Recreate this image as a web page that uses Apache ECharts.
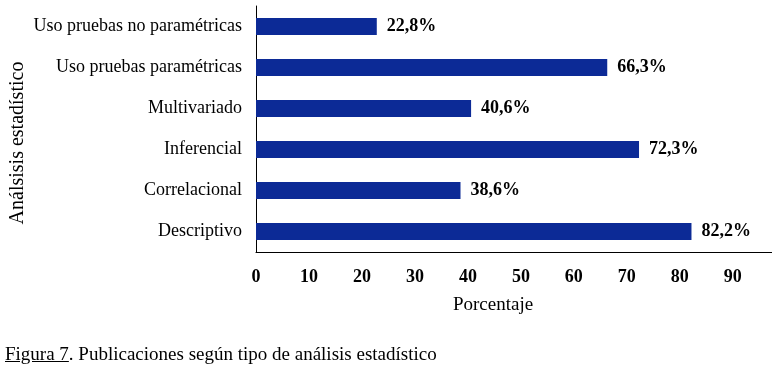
<!DOCTYPE html>
<html>
<head>
<meta charset="utf-8">
<script src="https://cdn.jsdelivr.net/npm/echarts@6/dist/echarts.min.js"></script>
<style>
  body { margin: 0; background: #fff; }
  #chart { width: 772px; height: 371px; }
  .caption {
    position: absolute; left: 5px; top: 343px;
    font-family: "Liberation Serif", "DejaVu Serif", serif;
    font-size: 19px; color: #000;
  }
</style>
</head>
<body>
<div id="chart"></div>
<div class="caption"><u>Figura 7</u>. Publicaciones según tipo de análisis estadístico</div>
<script>
const categories = ['Descriptivo', 'Correlacional', 'Inferencial', 'Multivariado', 'Uso pruebas paramétricas', 'Uso pruebas no paramétricas'];
const values = [82.2, 38.6, 72.3, 40.6, 66.3, 22.8];
const serif = '"Liberation Serif", "DejaVu Serif", serif';

let myChart = echarts.init(document.getElementById('chart'));
const option = {
    animation: false,
    grid: { left: 256, right: 0, top: 6, bottom: 119, outerBoundsMode: 'none', containLabel: false },
    xAxis: {
        type: 'value',
        min: 0,
        max: 97.4,
        interval: 10,
        name: 'Porcentaje',
        nameLocation: 'middle',
        nameGap: 44,
        nameTextStyle: { fontFamily: serif, fontSize: 19, color: '#000', padding: [0, 42, 0, 0] },
        axisLine: { show: true, lineStyle: { color: '#000', width: 1 } },
        axisTick: { show: false },
        splitLine: { show: false },
        axisLabel: {
            fontFamily: serif, fontSize: 18, fontWeight: 'bold', color: '#000', margin: 16,
            showMaxLabel: false,
            formatter: v => (v > 90 ? '' : v)
        }
    },
    yAxis: {
        type: 'category',
        data: categories,
        name: 'Análsisis estadístico',
        nameLocation: 'middle',
        nameGap: 228,
        nameRotate: 90,
        nameMoveOverlap: false,
        nameTextStyle: { fontFamily: serif, fontSize: 20, color: '#000', padding: [0, 28, 0, 0] },
        axisLine: { show: true, lineStyle: { color: '#000', width: 1 } },
        axisTick: { show: false },
        axisLabel: { fontFamily: serif, fontSize: 18, color: '#000', margin: 14 }
    },
    series: [{
        type: 'bar',
        data: values,
        barWidth: 17,
        itemStyle: { color: '#0c2a96' },
        label: {
            show: true,
            position: 'right',
            distance: 10,
            fontFamily: serif,
            fontSize: 18,
            fontWeight: 'bold',
            color: '#000',
            formatter: p => String(p.value.toFixed(1)).replace('.', ',') + '%'
        }
    }]
};
myChart.setOption(option);
</script>
</body>
</html>
